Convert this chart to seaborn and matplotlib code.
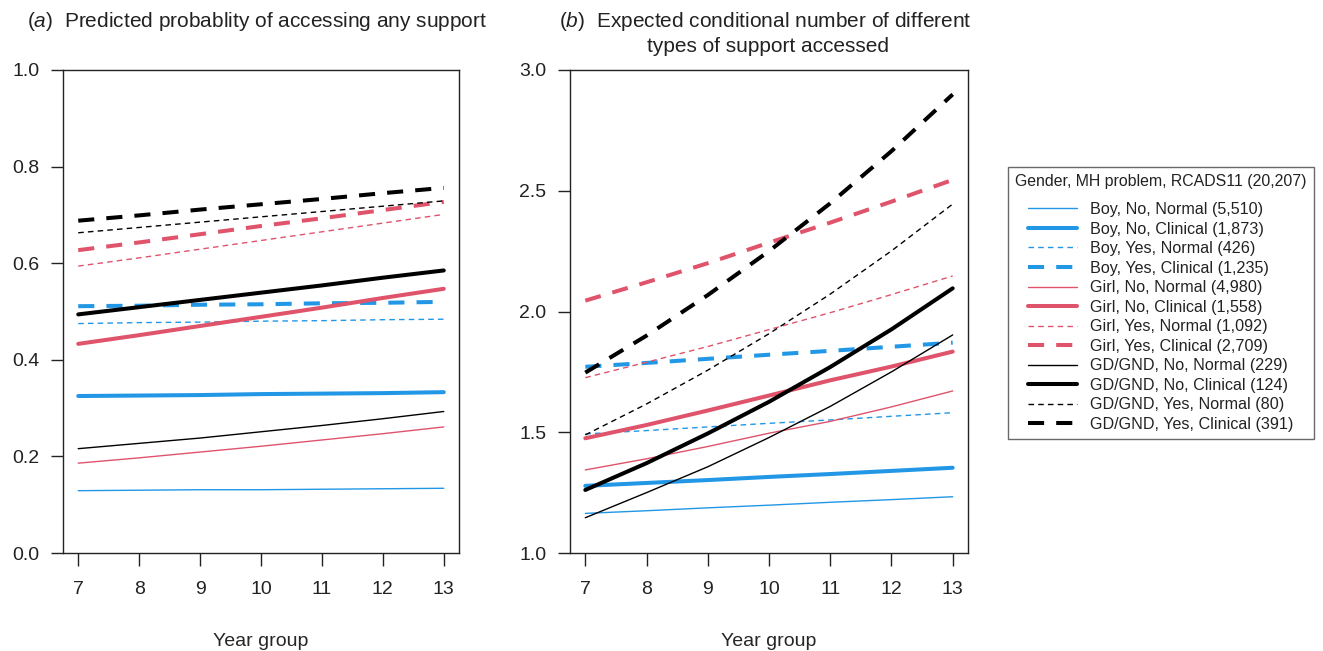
import numpy as np
import pandas as pd
import seaborn as sns
import matplotlib
matplotlib.use("Agg")
import matplotlib.pyplot as plt
from matplotlib.lines import Line2D

# ---------------- data ----------------
years = [7, 8, 9, 10, 11, 12, 13]

series_labels = [
    "Boy, No, Normal (5,510)",
    "Boy, No, Clinical (1,873)",
    "Boy, Yes, Normal (426)",
    "Boy, Yes, Clinical (1,235)",
    "Girl, No, Normal (4,980)",
    "Girl, No, Clinical (1,558)",
    "Girl, Yes, Normal (1,092)",
    "Girl, Yes, Clinical (2,709)",
    "GD/GND, No, Normal (229)",
    "GD/GND, No, Clinical (124)",
    "GD/GND, Yes, Normal (80)",
    "GD/GND, Yes, Clinical (391)",
]

# Panel (a): predicted probability of accessing any support
prob_boy_no_normal = [0.129, 0.130, 0.131, 0.131, 0.132, 0.133, 0.134]
prob_boy_no_clinical = [0.325, 0.326, 0.327, 0.329, 0.330, 0.331, 0.333]
prob_boy_yes_normal = [0.475, 0.477, 0.478, 0.480, 0.481, 0.483, 0.484]
prob_boy_yes_clinical = [0.511, 0.512, 0.514, 0.515, 0.517, 0.518, 0.520]
prob_girl_no_normal = [0.186, 0.197, 0.209, 0.221, 0.234, 0.247, 0.261]
prob_girl_no_clinical = [0.433, 0.451, 0.470, 0.489, 0.508, 0.528, 0.547]
prob_girl_yes_normal = [0.594, 0.611, 0.629, 0.647, 0.665, 0.683, 0.701]
prob_girl_yes_clinical = [0.627, 0.643, 0.660, 0.677, 0.693, 0.710, 0.727]
prob_gd_no_normal = [0.216, 0.227, 0.238, 0.251, 0.264, 0.278, 0.293]
prob_gd_no_clinical = [0.494, 0.509, 0.524, 0.539, 0.554, 0.570, 0.585]
prob_gd_yes_normal = [0.663, 0.674, 0.685, 0.696, 0.707, 0.718, 0.729]
prob_gd_yes_clinical = [0.688, 0.699, 0.711, 0.722, 0.733, 0.745, 0.756]

# Panel (b): expected conditional number of different types of support
num_boy_no_normal = [1.164, 1.175, 1.187, 1.198, 1.210, 1.221, 1.233]
num_boy_no_clinical = [1.278, 1.290, 1.302, 1.315, 1.327, 1.340, 1.353]
num_boy_yes_normal = [1.493, 1.507, 1.522, 1.537, 1.551, 1.566, 1.581]
num_boy_yes_clinical = [1.771, 1.787, 1.804, 1.821, 1.837, 1.854, 1.871]
num_girl_no_normal = [1.344, 1.390, 1.441, 1.496, 1.545, 1.605, 1.671]
num_girl_no_clinical = [1.475, 1.530, 1.590, 1.652, 1.715, 1.772, 1.834]
num_girl_yes_normal = [1.726, 1.790, 1.855, 1.925, 1.995, 2.070, 2.147]
num_girl_yes_clinical = [2.045, 2.121, 2.200, 2.285, 2.368, 2.455, 2.545]
num_gd_no_normal = [1.146, 1.250, 1.357, 1.478, 1.607, 1.750, 1.903]
num_gd_no_clinical = [1.261, 1.372, 1.495, 1.626, 1.770, 1.926, 2.096]
num_gd_yes_normal = [1.489, 1.617, 1.757, 1.908, 2.072, 2.251, 2.445]
num_gd_yes_clinical = [1.747, 1.900, 2.068, 2.250, 2.448, 2.664, 2.899]

prob_series = [prob_boy_no_normal, prob_boy_no_clinical, prob_boy_yes_normal, prob_boy_yes_clinical,
               prob_girl_no_normal, prob_girl_no_clinical, prob_girl_yes_normal, prob_girl_yes_clinical,
               prob_gd_no_normal, prob_gd_no_clinical, prob_gd_yes_normal, prob_gd_yes_clinical]
num_series = [num_boy_no_normal, num_boy_no_clinical, num_boy_yes_normal, num_boy_yes_clinical,
              num_girl_no_normal, num_girl_no_clinical, num_girl_yes_normal, num_girl_yes_clinical,
              num_gd_no_normal, num_gd_no_clinical, num_gd_yes_normal, num_gd_yes_clinical]

# ---------------- styles ----------------
BLUE, RED, BLACK = "#2297E6", "#DF536B", "#000000"
group_colors = [BLUE] * 4 + [RED] * 4 + [BLACK] * 4
THIN, THICK = 1.0, 2.9
widths = [THIN, THICK, THIN, THICK] * 3
dash_styles = ["", "", (4, 3), (4, 3)] * 3

palette = dict(zip(series_labels, group_colors))
sizes = dict(zip(series_labels, widths))
dashes = dict(zip(series_labels, dash_styles))


def long_df(series):
    rows = []
    for lab, vals in zip(series_labels, series):
        for yr, v in zip(years, vals):
            rows.append({"Year group": yr, "value": v, "series": lab})
    return pd.DataFrame(rows)


df_a = long_df(prob_series)
df_b = long_df(num_series)

# ---------------- figure ----------------
sns.set_theme(style="white")
plt.rcParams["font.family"] = ["Liberation Sans", "DejaVu Sans"]
plt.rcParams["mathtext.fontset"] = "custom"
plt.rcParams["mathtext.it"] = "Liberation Sans:italic"
plt.rcParams["mathtext.rm"] = "Liberation Sans"
plt.rcParams["axes.edgecolor"] = "#222222"
plt.rcParams["xtick.color"] = "#222222"
plt.rcParams["ytick.color"] = "#222222"
plt.rcParams["text.color"] = "#222222"

W, H = 1323, 651
fig = plt.figure(figsize=(W / 100, H / 100), dpi=100)
ax_a = fig.add_axes([63 / W, 1 - 553 / H, 396 / W, 483 / H])
ax_b = fig.add_axes([570 / W, 1 - 553 / H, 398 / W, 483 / H])

for ax, df, ylim, yticks in [
    (ax_a, df_a, (0, 1), [0.0, 0.2, 0.4, 0.6, 0.8, 1.0]),
    (ax_b, df_b, (1, 3), [1.0, 1.5, 2.0, 2.5, 3.0]),
]:
    sns.lineplot(data=df, x="Year group", y="value", hue="series", style="series",
                 size="series", palette=palette, sizes=sizes, dashes=dashes,
                 hue_order=series_labels, style_order=series_labels, size_order=series_labels,
                 legend=False, ax=ax)
    ax.set_xlim(6.75, 13.25)
    ax.set_ylim(*ylim)
    ax.set_xticks(years)
    ax.set_yticks(yticks)
    ax.set_yticklabels([f"{t:.1f}" for t in yticks])
    ax.set_xlabel("Year group", fontsize=14, labelpad=25)
    ax.set_ylabel("")
    ax.tick_params(axis="both", which="major", direction="out", length=9, width=1.0,
                   labelsize=14, left=True, bottom=True)
    ax.tick_params(axis="x", pad=11)
    ax.tick_params(axis="y", pad=8)
    for sp in ax.spines.values():
        sp.set_visible(True)
        sp.set_linewidth(1.0)
        sp.set_color("#222222")
    ax.grid(False)

# titles
TS = 15
fig.text(257 / W, 1 - 27 / H, "($\\it{a}$)  Predicted probablity of accessing any support",
         fontsize=TS, va="baseline", ha="center")
fig.text(765 / W, 1 - 27 / H, "($\\it{b}$)  Expected conditional number of different",
         fontsize=TS, va="baseline", ha="center")
fig.text(768 / W, 1 - 52 / H, "types of support accessed",
         fontsize=TS, va="baseline", ha="center")

# legend
handles = [Line2D([0], [0], color=c, lw=w,
                  linestyle="-" if d == "" else (0, d))
           for c, w, d in zip(group_colors, widths, dash_styles)]
leg = fig.legend(handles, series_labels, title="Gender, MH problem, RCADS11 (20,207)",
                 loc="upper left", bbox_to_anchor=(1008 / W, 1 - 167 / H), borderaxespad=0,
                 fontsize=11.6, title_fontsize=11.4, frameon=True, fancybox=False,
                 edgecolor="#444444", handlelength=3.0, handletextpad=0.85,
                 labelspacing=0.28, borderpad=0.45, alignment="center")
leg.get_frame().set_linewidth(1.0)
leg._legend_box.sep = 11.6 * 0.28 + 6

fig.savefig("out.png", dpi=100)
